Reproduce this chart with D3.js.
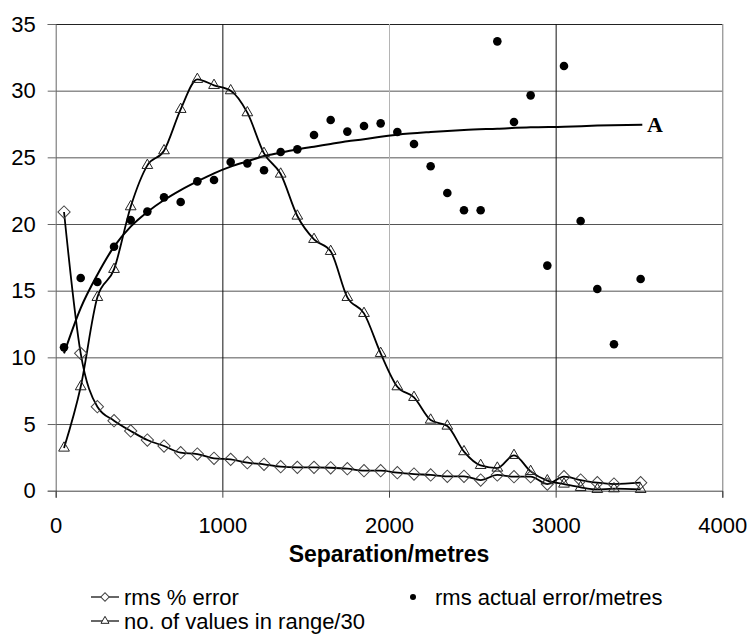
<!doctype html>
<html>
<head>
    <meta charset="UTF-8">
    <script src="https://d3js.org/d3.v7.min.js"></script>
    <title></title>
</head>

<body style="margin:0">

<style>

    text {
        font-family: "Liberation Sans", Arial, sans-serif;
        fill: #000000;
    }

</style>


<div id="graph"></div>

<script>
    // separation (m) of each bin, shared by all three series
    var sep = [50, 150, 250, 350, 450, 550, 650, 750, 850, 950, 1050, 1150, 1250, 1350, 1450,
               1550, 1650, 1750, 1850, 1950, 2050, 2150, 2250, 2350, 2450, 2550, 2650, 2750,
               2850, 2950, 3050, 3150, 3250, 3350, 3510];

    var rmsPct = [20.9, 10.3, 6.3, 5.25, 4.48, 3.8, 3.35, 2.85, 2.75, 2.43, 2.35, 2.1, 1.98, 1.8, 1.75,
                  1.75, 1.72, 1.65, 1.5, 1.5, 1.35, 1.25, 1.18, 1.08, 1.08, 0.8, 1.18, 1.05,
                  1.05, 0.5, 1.05, 0.8, 0.6, 0.5, 0.6];

    var rmsActual = [10.75, 15.95, 15.65, 18.3, 20.3, 20.93, 22.0, 21.65, 23.2, 23.3, 24.65, 24.55, 24.03, 25.4, 25.6,
                     26.68, 27.8, 26.93, 27.35, 27.55, 26.9, 26.0, 24.33, 22.33, 21.03, 21.03, 33.7, 27.65,
                     29.65, 16.88, 31.85, 20.23, 15.13, 10.98, 15.88];

    var nValues = [3.2, 7.8, 14.5, 16.6, 21.3, 24.4, 25.5, 28.6, 30.85, 30.4, 30.0, 28.35, 25.3, 23.75, 20.6,
                   18.85, 17.95, 14.5, 13.3, 10.3, 7.8, 7.0, 5.3, 4.85, 2.93, 1.9, 1.7, 2.65,
                   1.45, 0.75, 0.5, 0.25, 0.1, 0.15, 0.1];

    // fitted curve "A"
    var fitX = [50, 150, 250, 350, 450, 550, 650, 750, 850, 950, 1050, 1150, 1250, 1350, 1450,
                1550, 1650, 1750, 1850, 1950, 2050, 2250, 2450, 2650, 2850, 3050, 3250, 3520];
    var fitY = [10.3, 13.7, 16.2, 18.3, 19.8, 20.9, 21.8, 22.55, 23.2, 23.8, 24.3, 24.7, 25.1, 25.35, 25.6,
                25.8, 26.0, 26.2, 26.35, 26.55, 26.7, 26.9, 27.05, 27.15, 27.25, 27.3, 27.38, 27.45];

    var xTicks = [0, 1000, 2000, 3000, 4000];
    var yTicks = [0, 5, 10, 15, 20, 25, 30, 35];

    var w = 748, h = 643;
    var pLeft = 55.7, pRight = 722.3, pTop = 24, pBottom = 490.7;

    var vis = d3.select("#graph")
            .append("svg")
            .attr("width", w)
            .attr("height", h)
            .style("background-color", "#fff");

    var x = d3.scaleLinear().domain([0, 4000]).range([pLeft, pRight]);
    var y = d3.scaleLinear().domain([0, 35]).range([pBottom, pTop]);

    // horizontal grid
    vis.append("g")
            .attr("transform", "translate(" + pLeft + ",0)")
            .call(d3.axisLeft(y).tickValues(yTicks.slice(1)).tickSize(-(pRight - pLeft)).tickFormat(""))
            .call(function(g) { g.select(".domain").remove(); })
            .selectAll("line")
            .style("stroke", function(d) { return d == 35 ? "#222" : "#555"; });

    // vertical grid
    vis.append("g")
            .attr("transform", "translate(0," + pBottom + ")")
            .call(d3.axisBottom(x).tickValues(xTicks.slice(1)).tickSize(-(pBottom - pTop)).tickFormat(""))
            .call(function(g) { g.select(".domain").remove(); })
            .selectAll("line")
            .style("stroke", function(d) { return d == 2000 ? "#b4b4b4" : (d == 4000 ? "#777" : "#111"); });

    // y axis
    var yAxis = vis.append("g")
            .attr("transform", "translate(" + pLeft + ",0)")
            .call(d3.axisLeft(y).tickValues(yTicks).tickSize(8).tickPadding(12));
    yAxis.selectAll("line, path").style("stroke", "#666");
    yAxis.selectAll("text").style("font-size", "22px").style("font-family", "'Liberation Sans', Arial, sans-serif");

    // x axis
    var xAxis = vis.append("g")
            .attr("transform", "translate(0," + pBottom + ")")
            .call(d3.axisBottom(x).tickValues(xTicks).tickFormat(d3.format("d")).tickSize(7).tickPadding(20));
    xAxis.selectAll("line, path").style("stroke", "#444");
    xAxis.selectAll("text").style("font-size", "22px").style("font-family", "'Liberation Sans', Arial, sans-serif");

    vis.append("text")
            .attr("x", x(2000))
            .attr("y", 562)
            .attr("text-anchor", "middle")
            .style("font-size", "23px")
            .style("font-weight", "bold")
            .text("Separation/metres");

    // series lines
    var smooth = d3.line()
            .x(function(d) { return x(d[0]); })
            .y(function(d) { return y(d[1]); })
            .curve(d3.curveMonotoneX);

    var pctPts = sep.map(function(s, i) { return [s, rmsPct[i]]; });
    var nPts = sep.map(function(s, i) { return [s, nValues[i]]; });
    var actPts = sep.map(function(s, i) { return [s, rmsActual[i]]; });
    var fitPts = fitX.map(function(s, i) { return [s, fitY[i]]; });

    vis.append("path").datum(fitPts)
            .attr("d", smooth)
            .style("fill", "none").style("stroke", "#000").style("stroke-width", 2);

    vis.append("path").datum(nPts)
            .attr("d", smooth)
            .style("fill", "none").style("stroke", "#000").style("stroke-width", 1.8);

    vis.append("path").datum(pctPts)
            .attr("d", smooth)
            .style("fill", "none").style("stroke", "#000").style("stroke-width", 1.8);

    var diamond = d3.symbol().type(d3.symbolSquare).size(76);
    var triangle = d3.symbol().type(d3.symbolTriangle).size(50);

    vis.selectAll(".dia")
            .data(pctPts)
            .enter()
            .append("path")
            .attr("class", "dia")
            .attr("d", diamond)
            .attr("transform", function(d) { return "translate(" + x(d[0]) + "," + y(d[1]) + ") rotate(45)"; })
            .style("fill", "none").style("stroke", "#444").style("stroke-width", 1);

    vis.selectAll(".tri")
            .data(nPts)
            .enter()
            .append("path")
            .attr("class", "tri")
            .attr("d", triangle)
            .attr("transform", function(d) { return "translate(" + x(d[0]) + "," + y(d[1]) + ")"; })
            .style("fill", "none").style("stroke", "#222").style("stroke-width", 1);

    vis.selectAll(".dot")
            .data(actPts)
            .enter()
            .append("circle")
            .attr("class", "dot")
            .attr("cx", function(d) { return x(d[0]); })
            .attr("cy", function(d) { return y(d[1]); })
            .attr("r", 4.3)
            .style("fill", "#000");

    vis.append("text")
            .attr("x", 647)
            .attr("y", 132)
            .style("font-family", "'Liberation Serif', 'Times New Roman', serif")
            .style("font-size", "22px")
            .style("font-weight", "bold")
            .text("A");

    // legend
    var legend = [
        {label: "rms % error", kind: "dia", lx: 91, tx: 124, y: 597},
        {label: "rms actual error/metres", kind: "dot", lx: 405, tx: 435, y: 597},
        {label: "no. of values in range/30", kind: "tri", lx: 91, tx: 124, y: 621}
    ];

    var items = vis.selectAll(".leg").data(legend).enter().append("g").attr("class", "leg");

    items.filter(function(d) { return d.kind != "dot"; })
            .append("line")
            .attr("x1", function(d) { return d.lx; })
            .attr("x2", function(d) { return d.lx + 28; })
            .attr("y1", function(d) { return d.y; })
            .attr("y2", function(d) { return d.y; })
            .style("stroke", "#000").style("stroke-width", 1.2);

    items.filter(function(d) { return d.kind == "dia"; })
            .append("path")
            .attr("d", d3.symbol().type(d3.symbolSquare).size(36))
            .attr("transform", function(d) { return "translate(" + (d.lx + 14) + "," + d.y + ") rotate(45)"; })
            .style("fill", "#fff").style("stroke", "#444");

    items.filter(function(d) { return d.kind == "tri"; })
            .append("path")
            .attr("d", d3.symbol().type(d3.symbolTriangle).size(28))
            .attr("transform", function(d) { return "translate(" + (d.lx + 14) + "," + d.y + ")"; })
            .style("fill", "#fff").style("stroke", "#222");

    items.filter(function(d) { return d.kind == "dot"; })
            .append("circle")
            .attr("cx", 413)
            .attr("cy", function(d) { return d.y; })
            .attr("r", 3)
            .style("fill", "#000");

    items.append("text")
            .attr("x", function(d) { return d.tx; })
            .attr("y", function(d) { return d.y + 8; })
            .style("font-size", "22px")
            .text(function(d) { return d.label; });

</script>

</body>
</html>
